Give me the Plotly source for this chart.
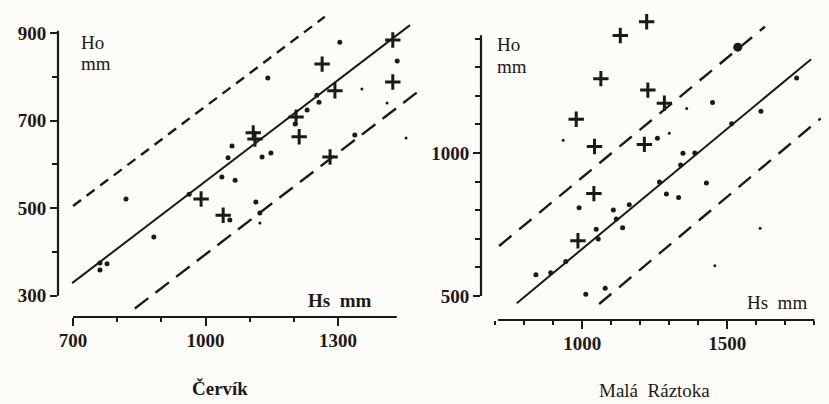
import plotly.graph_objects as go

# ---------------- data: Červík (left) ----------------
cer_dot_hs = [1304, 1434, 1141, 1252, 1257, 1230, 1338, 1128, 1148, 1060, 1051, 1037, 1067,
              820, 963, 1055, 883, 761, 777, 761, 1114, 1123, 1203]
cer_dot_ho = [879, 836, 797, 758, 742, 724, 667, 617, 626, 642, 615, 571, 564,
              521, 532, 473, 434, 375, 373, 359, 514, 489, 692]
cer_speck_hs = [1354, 1123, 1454, 1411]
cer_speck_ho = [772, 466, 660, 740]
cer_plus_hs = [1424, 1264, 1424, 1293, 1205, 1212, 1108, 1112, 1282, 990, 1040]
cer_plus_ho = [884, 829, 788, 768, 708, 663, 672, 658, 617, 521, 484]
cer_fit_hs = [698, 1463]
cer_fit_ho = [329, 918]
cer_up_hs = [700, 1270]
cer_up_ho = [505, 937]
cer_lo_hs = [840, 1486]
cer_lo_ho = [271, 770]
cer_y_major = [300, 500, 700, 900]
cer_y_minor = [400, 600, 800]
cer_x_major = [700, 1000, 1300]
cer_x_minor = [800, 900, 1100, 1200]

# ---------------- data: Malá Ráztoka (right) ----------------
mr_dot_hs = [1449, 1616, 1515, 1347, 1388, 1428, 1339, 1266, 1290, 1332, 989, 1107, 1162,
             1117, 1139, 1048, 1055, 943, 891, 840, 1012, 1079, 1259, 1739]
mr_dot_ho = [1177, 1146, 1102, 999, 1000, 895, 958, 899, 857, 844, 809, 801, 819,
             769, 739, 733, 699, 621, 581, 574, 506, 527, 1052, 1262]
mr_big_hs = [1536]
mr_big_ho = [1370]
mr_speck_hs = [1360, 1300, 1613, 1457, 934]
mr_speck_ho = [1156, 1069, 737, 606, 1045]
mr_plus_hs = [1222, 1131, 1064, 1226, 979, 1042, 1214, 1283, 1040, 985]
mr_plus_ho = [1459, 1411, 1260, 1220, 1118, 1023, 1030, 1174, 858, 693]
mr_fit_hs = [774, 1789]
mr_fit_ho = [475, 1328]
mr_up_hs = [713, 1630]
mr_up_ho = [675, 1442]
mr_lo_hs = [1058, 1822]
mr_lo_ho = [472, 1121]
mr_y_major = [500, 1000]
mr_y_minor = [600, 700, 800, 900, 1100, 1200, 1300, 1400]
mr_x_major = [1000, 1500]
mr_x_minor = [700, 800, 900, 1100, 1200, 1300, 1400, 1600, 1700, 1800]

INK = "#1d1915"
BG = "#fdfcf8"
W, H = 829, 404
SERIF = "Liberation Serif"


def px(x):
    return x / W


def py(y):
    return 1 - y / H


fig = go.Figure()


def add_panel(xa, ya, dot_hs, dot_ho, speck_hs, speck_ho, plus_hs, plus_ho,
              fit, up, lo, dash_up, dash_lo, big=None):
    kw = dict(xaxis=xa, yaxis=ya, showlegend=False, hoverinfo="skip")
    fig.add_trace(go.Scatter(x=fit[0], y=fit[1], mode="lines",
                             line=dict(color=INK, width=2), **kw))
    fig.add_trace(go.Scatter(x=up[0], y=up[1], mode="lines",
                             line=dict(color=INK, width=2.4, dash=dash_up), **kw))
    fig.add_trace(go.Scatter(x=lo[0], y=lo[1], mode="lines",
                             line=dict(color=INK, width=2.4, dash=dash_lo), **kw))
    fig.add_trace(go.Scatter(x=dot_hs, y=dot_ho, mode="markers",
                             marker=dict(color=INK, size=5), **kw))
    fig.add_trace(go.Scatter(x=speck_hs, y=speck_ho, mode="markers",
                             marker=dict(color=INK, size=3), **kw))
    if big is not None:
        fig.add_trace(go.Scatter(x=big[0], y=big[1], mode="markers",
                                 marker=dict(color=INK, size=9), **kw))
    fig.add_trace(go.Scatter(x=plus_hs, y=plus_ho, mode="markers",
                             marker=dict(symbol="cross-thin", size=11,
                                         line=dict(color=INK, width=3)), **kw))


add_panel("x", "y", cer_dot_hs, cer_dot_ho, cer_speck_hs, cer_speck_ho,
          cer_plus_hs, cer_plus_ho,
          (cer_fit_hs, cer_fit_ho), (cer_up_hs, cer_up_ho), (cer_lo_hs, cer_lo_ho),
          "10px,7px", "17px,9px")
add_panel("x2", "y2", mr_dot_hs, mr_dot_ho, mr_speck_hs, mr_speck_ho,
          mr_plus_hs, mr_plus_ho,
          (mr_fit_hs, mr_fit_ho), (mr_up_hs, mr_up_ho), (mr_lo_hs, mr_lo_ho),
          "16px,10px", "16px,10px", big=(mr_big_hs, mr_big_ho))

tickfont = dict(family=SERIF, size=19, color=INK, weight="bold")
common = dict(showgrid=False, zeroline=False, showline=False,
              ticks="outside", tickwidth=2, tickcolor=INK, tickfont=tickfont,
              tickmode="array", fixedrange=True)

fig.update_layout(
    width=W, height=H,
    margin=dict(l=0, r=0, t=0, b=0),
    paper_bgcolor=BG, plot_bgcolor=BG,
    xaxis=dict(domain=[px(58), px(420)], range=[666, 1485.6], anchor="y",
               tickvals=cer_x_major, ticklen=8, ticklabelstandoff=-2,
               minor=dict(tickvals=cer_x_minor, ticks="outside", ticklen=4,
                          tickwidth=2, tickcolor=INK),
               **common),
    yaxis=dict(domain=[py(317), py(10)], range=[251.6, 952.5], anchor="x",
               tickvals=cer_y_major, ticklen=7,
               minor=dict(tickvals=cer_y_minor, ticks="outside", ticklen=5,
                          tickwidth=2, tickcolor=INK),
               **common),
    xaxis2=dict(domain=[px(481), px(826)], range=[650.7, 1840.3], anchor="y2",
                tickvals=mr_x_major, ticklen=8, ticklabelstandoff=-2,
                minor=dict(tickvals=mr_x_minor, ticks="outside", ticklen=4,
                           tickwidth=2, tickcolor=INK),
                **common),
    yaxis2=dict(domain=[py(320), py(5)], range=[416.1, 1517.5], anchor="x2",
                tickvals=mr_y_major, ticklen=7,
                minor=dict(tickvals=mr_y_minor, ticks="outside", ticklen=5,
                           tickwidth=2, tickcolor=INK),
                **common),
)

# axis lines (they do not meet, as in the original)
shapes = [
    dict(type="line", xref="x domain", yref="y", x0=0, x1=0, y0=cer_y_major[0], y1=905,
         line=dict(color=INK, width=2.2)),
    dict(type="line", xref="x", yref="y domain", x0=cer_x_major[0], x1=1433, y0=0, y1=0,
         line=dict(color=INK, width=2.2)),
    dict(type="line", xref="x2 domain", yref="y2", x0=0, x1=0, y0=mr_y_major[0], y1=1412,
         line=dict(color=INK, width=2.2)),
    dict(type="line", xref="x2", yref="y2 domain", x0=710, x1=1800, y0=0, y1=0,
         line=dict(color=INK, width=2.2)),
]
fig.update_layout(shapes=shapes)

ann = []
def txt(x, y, s, size=19, bold=False, xanchor="left"):
    ann.append(dict(xref="paper", yref="paper", x=px(x), y=py(y), text=("<b>%s</b>" % s) if bold else s,
                    showarrow=False, xanchor=xanchor, yanchor="middle",
                    font=dict(family=SERIF, size=size, color=INK)))

txt(79, 43, "Ho")
txt(79, 63, "mm")
txt(495, 45, "Ho")
txt(495, 66, "mm")
txt(306, 300, "Hs&nbsp;&nbsp;mm", bold=True)
txt(745, 302, "Hs&nbsp;&nbsp;mm")
txt(220, 388, "Červík", bold=True, xanchor="center")
txt(597, 390, "Malá&nbsp;&nbsp;Ráztoka", xanchor="left")
fig.update_layout(annotations=ann)

fig.write_html("out.html", config={"displayModeBar": False},
               post_script="document.body.style.margin='0';document.body.style.background='%s';" % BG)
